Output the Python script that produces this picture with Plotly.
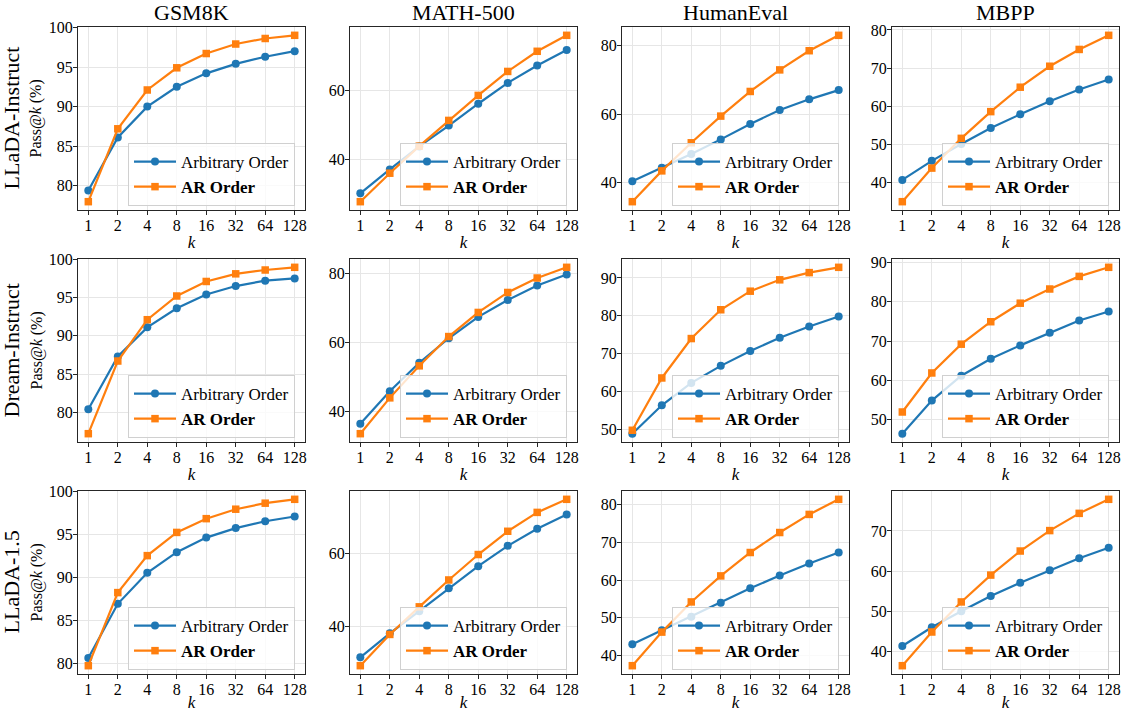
import math
import plotly.graph_objects as go
from plotly.subplots import make_subplots

k_values = [1, 2, 4, 8, 16, 32, 64, 128]
k_labels = ["1", "2", "4", "8", "16", "32", "64", "128"]
models = ["LLaDA-Instruct", "Dream-Instruct", "LLaDA-1.5"]
benchmarks = ["GSM8K", "MATH-500", "HumanEval", "MBPP"]

# pass@k (%), one list per benchmark in the order above
llada_instruct_arbitrary = [
    [79.4, 86.1, 90.0, 92.5, 94.2, 95.4, 96.3, 97.0],
    [30.3, 37.2, 43.8, 49.8, 56.1, 62.1, 67.1, 71.6],
    [40.4, 44.3, 48.3, 52.6, 57.1, 61.2, 64.3, 67.0],
    [40.7, 45.7, 50.1, 54.3, 57.9, 61.3, 64.4, 67.0],
]
llada_instruct_ar = [
    [78.0, 87.2, 92.1, 94.9, 96.7, 97.9, 98.6, 99.0],
    [27.9, 36.1, 43.9, 51.3, 58.5, 65.4, 71.2, 75.8],
    [34.4, 43.4, 51.6, 59.4, 66.6, 72.9, 78.5, 83.0],
    [35.0, 43.8, 51.6, 58.6, 65.0, 70.5, 74.9, 78.6],
]
dream_instruct_arbitrary = [
    [80.4, 87.3, 91.1, 93.6, 95.4, 96.5, 97.2, 97.5],
    [36.4, 45.8, 54.1, 61.2, 67.4, 72.3, 76.5, 79.7],
    [48.9, 56.4, 62.3, 66.8, 70.7, 74.2, 77.2, 79.8],
    [46.5, 54.9, 61.2, 65.5, 68.9, 72.1, 75.2, 77.5],
]
dream_instruct_ar = [
    [77.2, 86.7, 92.1, 95.2, 97.1, 98.1, 98.6, 98.95],
    [33.5, 43.9, 53.2, 61.7, 68.7, 74.5, 78.7, 81.8],
    [49.8, 63.6, 74.0, 81.6, 86.5, 89.5, 91.4, 92.8],
    [52.0, 61.9, 69.2, 74.9, 79.6, 83.2, 86.4, 88.7],
]
llada15_arbitrary = [
    [80.6, 86.9, 90.5, 92.9, 94.6, 95.7, 96.5, 97.05],
    [31.5, 38.1, 44.2, 50.5, 56.6, 62.2, 66.9, 70.8],
    [43.0, 46.7, 50.3, 54.0, 57.8, 61.2, 64.4, 67.3],
    [41.3, 46.0, 50.0, 53.8, 57.1, 60.2, 63.2, 65.8],
]
llada15_ar = [
    [79.7, 88.2, 92.5, 95.2, 96.8, 97.9, 98.6, 99.05],
    [29.2, 37.8, 45.4, 52.8, 59.8, 66.2, 71.4, 75.0],
    [37.3, 46.2, 54.2, 61.1, 67.3, 72.6, 77.4, 81.4],
    [36.4, 44.8, 52.3, 59.0, 65.0, 70.1, 74.4, 77.9],
]
y_dticks = [[5, 20, 20, 10], [5, 20, 10, 10], [5, 20, 10, 10]]

arbitrary_all = [llada_instruct_arbitrary, dream_instruct_arbitrary, llada15_arbitrary]
ar_all = [llada_instruct_ar, dream_instruct_ar, llada15_ar]

W, H = 1123, 712
FONT = "Liberation Serif"
BLUE = "#1f77b4"
ORANGE = "#ff7f0e"

col_left = [78, 350, 622, 892]
col_w = 227
row_top = [27, 259, 491]
row_h = 183

fig = make_subplots(rows=3, cols=4)

lx = math.log10(128)
xrange = [-0.05 * lx, 1.05 * lx]

for r in range(3):
    for c in range(4):
        n = r * 4 + c + 1
        leg = "legend" if n == 1 else "legend{}".format(n)
        a = arbitrary_all[r][c]
        b = ar_all[r][c]
        fig.add_trace(go.Scatter(x=k_values, y=a, name="Arbitrary Order", mode="lines+markers",
                                 line=dict(color=BLUE, width=2.2),
                                 marker=dict(symbol="circle", size=8, color=BLUE),
                                 legend=leg), row=r + 1, col=c + 1)
        fig.add_trace(go.Scatter(x=k_values, y=b, name="<b>AR Order</b>", mode="lines+markers",
                                 line=dict(color=ORANGE, width=2.2),
                                 marker=dict(symbol="square", size=7.5, color=ORANGE),
                                 legend=leg), row=r + 1, col=c + 1)

        lo = min(a + b)
        hi = max(a + b)
        pad = 0.05 * (hi - lo)
        x0 = col_left[c] / W
        x1 = (col_left[c] + col_w) / W
        y1 = 1 - row_top[r] / H
        y0 = 1 - (row_top[r] + row_h) / H

        fig.update_xaxes(type="log", range=xrange, domain=[x0, x1],
                         tickvals=k_values, ticktext=k_labels,
                         title=dict(text="<i>k</i>", standoff=2, font=dict(size=17)),
                         row=r + 1, col=c + 1)
        fig.update_yaxes(range=[lo - pad, hi + pad], domain=[y0, y1],
                         tick0=0, dtick=y_dticks[r][c],
                         row=r + 1, col=c + 1)

        fig.layout[leg] = dict(
            x=(col_left[c] + col_w - 10) / W, y=1 - (row_top[r] + row_h - 4) / H,
            xanchor="right", yanchor="bottom",
            bgcolor="rgba(255,255,255,0.8)", bordercolor="#d0d0d0", borderwidth=1,
            font=dict(family=FONT, size=17, color="black"),
            tracegroupgap=0, itemwidth=42,
        )

axis_style = dict(automargin=False, showline=True, linecolor="#262626", linewidth=1, mirror=True,
                  showgrid=True, gridcolor="#e6e6e6", gridwidth=1,
                  ticks="outside", ticklen=4, tickcolor="#262626", ticklabelstandoff=-3,
                  tickfont=dict(family=FONT, size=16, color="black"), zeroline=False)
fig.update_xaxes(**axis_style)
fig.update_yaxes(**axis_style)

# column titles
for c, name in enumerate(benchmarks):
    fig.add_annotation(text=name, xref="paper", yref="paper",
                       x=(col_left[c] + col_w / 2) / W, y=1 - 13 / H,
                       xanchor="center", yanchor="middle",
                       showarrow=False, font=dict(family=FONT, size=22, color="black"))

# row labels
for r, name in enumerate(models):
    yc = 1 - (row_top[r] + row_h / 2) / H
    fig.add_annotation(text=name, xref="paper", yref="paper", x=11 / W, y=yc,
                       xanchor="center", yanchor="middle",
                       textangle=-90, showarrow=False,
                       font=dict(family=FONT, size=22, color="black"))
    fig.add_annotation(text="Pass@<i>k</i> (%)", xref="paper", yref="paper", x=36 / W, y=yc,
                       xanchor="center", yanchor="middle",
                       textangle=-90, showarrow=False,
                       font=dict(family=FONT, size=16, color="black"))

fig.update_layout(width=W, height=H, margin=dict(l=0, r=0, t=0, b=0, autoexpand=False),
                  plot_bgcolor="white", paper_bgcolor="white",
                  font=dict(family=FONT, color="black"))

fig.write_html("out.html", config={"displayModeBar": False},
               post_script="document.body.style.margin='0';")
